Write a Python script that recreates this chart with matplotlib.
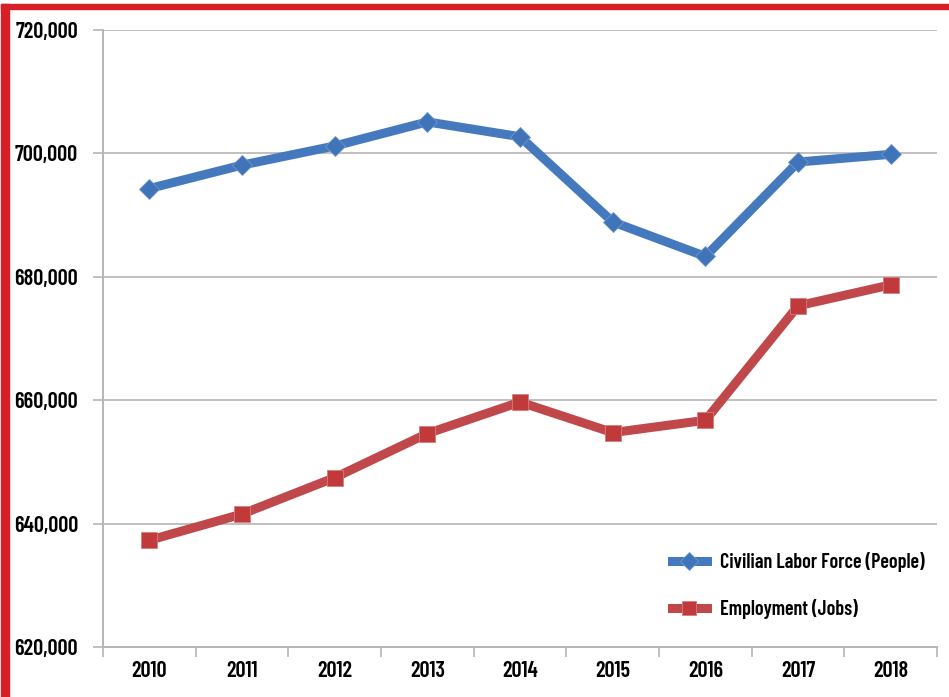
import matplotlib.pyplot as plt
from matplotlib.patches import Rectangle
from matplotlib.ticker import FuncFormatter

years = ['2010', '2011', '2012', '2013', '2014', '2015', '2016', '2017', '2018']
labor_force = [694300, 698100, 701200, 705100, 702700, 688900, 683300, 698600, 699850]
employment = [637300, 641550, 647450, 654600, 659700, 654750, 656750, 675300, 678700]
y_ticks = [620000, 640000, 660000, 680000, 700000, 720000]

plt.rcParams['font.family'] = ['Barlow Condensed', 'DejaVu Sans']

blue = '#4479BD'
red = '#C0484A'

fig = plt.figure(figsize=(9.49, 6.97), dpi=100)
ax = fig.add_axes([0.1085, 0.0717, 0.879, 0.8853])

x = list(range(len(years)))
ax.plot(x, labor_force, color=blue, linewidth=6.5, marker='D', markersize=10.5,
        markerfacecolor='#3F74B8', markeredgecolor='#6E98CC', markeredgewidth=0.6,
        solid_joinstyle='round', label='Civilian Labor Force (People)', zorder=3)
ax.plot(x, employment, color=red, linewidth=6.5, marker='s', markersize=11.5,
        markerfacecolor='#C0393B', markeredgecolor='#D97C7C', markeredgewidth=0.6,
        solid_joinstyle='round', label='Employment (Jobs)', zorder=3)

ax.set_xlim(-0.5, len(years) - 0.5)
ax.set_ylim(620000, 720000)
ax.set_yticks(y_ticks)
ax.yaxis.set_major_formatter(FuncFormatter(lambda v, p: f'{int(v):,}'))
ax.set_xticks(x)
ax.set_xticklabels(years)
ax.set_xticks([i - 0.5 for i in range(len(years) + 1)], minor=True)

ax.grid(axis='y', color='#B5B5B5', linewidth=1.2)
ax.set_axisbelow(True)
for s in ['top', 'right']:
    ax.spines[s].set_visible(False)
for s in ['left', 'bottom']:
    ax.spines[s].set_color('#B5B5B5')
    ax.spines[s].set_linewidth(1.4)

ax.tick_params(axis='y', length=7, color='#B5B5B5', width=1.2, labelsize=16, pad=11)
ax.tick_params(axis='x', which='major', length=0, labelsize=16, pad=10)
ax.tick_params(axis='x', which='minor', length=7, color='#B5B5B5', width=1.2)
for lab in ax.get_xticklabels() + ax.get_yticklabels():
    lab.set_fontweight('semibold')

leg = ax.legend(loc='center left', bbox_to_anchor=(0.682, 0.100), frameon=False,
                fontsize=14.5, handlelength=1.75, labelspacing=1.35, handletextpad=0.65,
                borderpad=0, borderaxespad=0, markerscale=0.85)
for t in leg.get_texts():
    t.set_fontweight('semibold')

# red frame on the left and top
fig.patches.append(Rectangle((0.001, 0), 0.0085, 0.994, transform=fig.transFigure,
                             color='#D81E27', zorder=10))
fig.patches.append(Rectangle((0.001, 0.987), 0.999, 0.0075, transform=fig.transFigure,
                             color='#D81E27', zorder=10))

fig.savefig('out.png', dpi=100)
